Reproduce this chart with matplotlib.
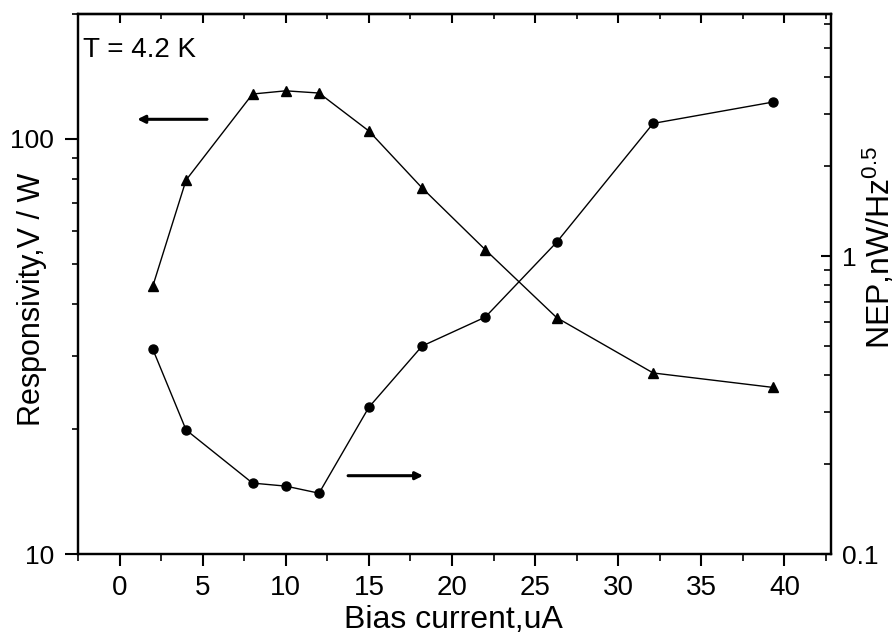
import matplotlib
matplotlib.use("Agg")
import matplotlib.pyplot as plt
from matplotlib.ticker import FixedLocator, NullFormatter, FuncFormatter, MultipleLocator, LogLocator

plt.rcParams['font.family'] = ['Liberation Sans', 'DejaVu Sans']
plt.rcParams['mathtext.fontset'] = 'custom'
plt.rcParams['mathtext.rm'] = 'Liberation Sans'
plt.rcParams['mathtext.it'] = 'Liberation Sans'

bias_current = [2.0, 4.0, 8.0, 10.0, 12.0, 15.0, 18.2, 22.0, 26.3, 32.1, 39.3]
responsivity = [44.2, 79.6, 128.3, 130.6, 129.0, 104.5, 76.2, 54.1, 37.1, 27.3, 25.2]
nep = [0.487, 0.261, 0.173, 0.169, 0.160, 0.311, 0.499, 0.624, 1.114, 2.79, 3.29]

W, H = 896, 636
fig = plt.figure(figsize=(W / 100, H / 100), dpi=100)
ax = fig.add_axes([78 / W, 1 - 554 / H, (831 - 78) / W, (554 - 14) / H])
ax2 = ax.twinx()

ax.plot(bias_current, responsivity, color='black', lw=1.0, marker='^', ms=6.5)
ax2.plot(bias_current, nep, color='black', lw=1.0, marker='o', ms=6.5)

ax.set_xlim(-2.5, 42.8)
ax.set_yscale('log')
ax.set_ylim(10, 200)
ax2.set_yscale('log')
ax2.set_ylim(0.1, 6.5)

fmt = FuncFormatter(lambda v, p: ('%g' % v))
ax.yaxis.set_major_locator(FixedLocator([10, 100]))
ax.yaxis.set_major_formatter(fmt)
ax.yaxis.set_minor_locator(LogLocator(base=10, subs=range(2, 10)))
ax.yaxis.set_minor_formatter(NullFormatter())
ax2.yaxis.set_major_locator(FixedLocator([0.1, 1]))
ax2.yaxis.set_major_formatter(fmt)
ax2.yaxis.set_minor_locator(LogLocator(base=10, subs=range(2, 10)))
ax2.yaxis.set_minor_formatter(NullFormatter())

ax.xaxis.set_major_locator(MultipleLocator(5))
ax.xaxis.set_minor_locator(MultipleLocator(2.5))

for a in (ax, ax2):
    for s in a.spines.values():
        s.set_linewidth(1.6)

ax.tick_params(axis='x', which='major', direction='out', length=8.6, width=1.5, labelsize=20, pad=6.5)
ax.tick_params(axis='x', which='minor', direction='out', length=5, width=1.2)
ax.tick_params(axis='y', which='major', direction='out', length=9.4, width=1.5, labelsize=19, pad=8)
ax.tick_params(axis='y', which='minor', direction='out', length=4.3, width=1.2)
ax2.tick_params(axis='y', which='major', direction='in', length=7, width=1.5, labelsize=19, pad=8)
ax2.tick_params(axis='y', which='minor', direction='in', length=5, width=1.2)

top = ax.secondary_xaxis('top')
top.xaxis.set_major_locator(MultipleLocator(5))
top.xaxis.set_minor_locator(MultipleLocator(2.5))
top.tick_params(axis='x', which='major', direction='in', length=6.5, width=1.5, labeltop=False)
top.tick_params(axis='x', which='minor', direction='in', length=3.5, width=1.2)
top.spines['top'].set_linewidth(1.6)

fig.text(453 / W, 1 - 628 / H, 'Bias current,uA', fontsize=23, ha='center', va='baseline')
fig.text(32 / W, 1 - 299 / H, 'Responsivity,V / W', fontsize=22, rotation=90, ha='center', va='center')
fig.text(879 / W, 1 - 247 / H, r'NEP,nW/Hz$^{0.5}$', fontsize=23, rotation=90, ha='center', va='center')

ax.text(5 / 753, 1 - (57 - 14) / 540, 'T = 4.2 K', transform=ax.transAxes, fontsize=20, va='baseline', ha='left')

ax.annotate('', xy=(0.075, 0.805), xytext=(0.175, 0.805), xycoords='axes fraction',
            arrowprops=dict(arrowstyle='-|>', lw=2.2, color='black', mutation_scale=11))
ax.annotate('', xy=(0.462, 0.145), xytext=(0.355, 0.145), xycoords='axes fraction',
            arrowprops=dict(arrowstyle='-|>', lw=2.2, color='black', mutation_scale=11))

fig.savefig('out.png', dpi=100)
